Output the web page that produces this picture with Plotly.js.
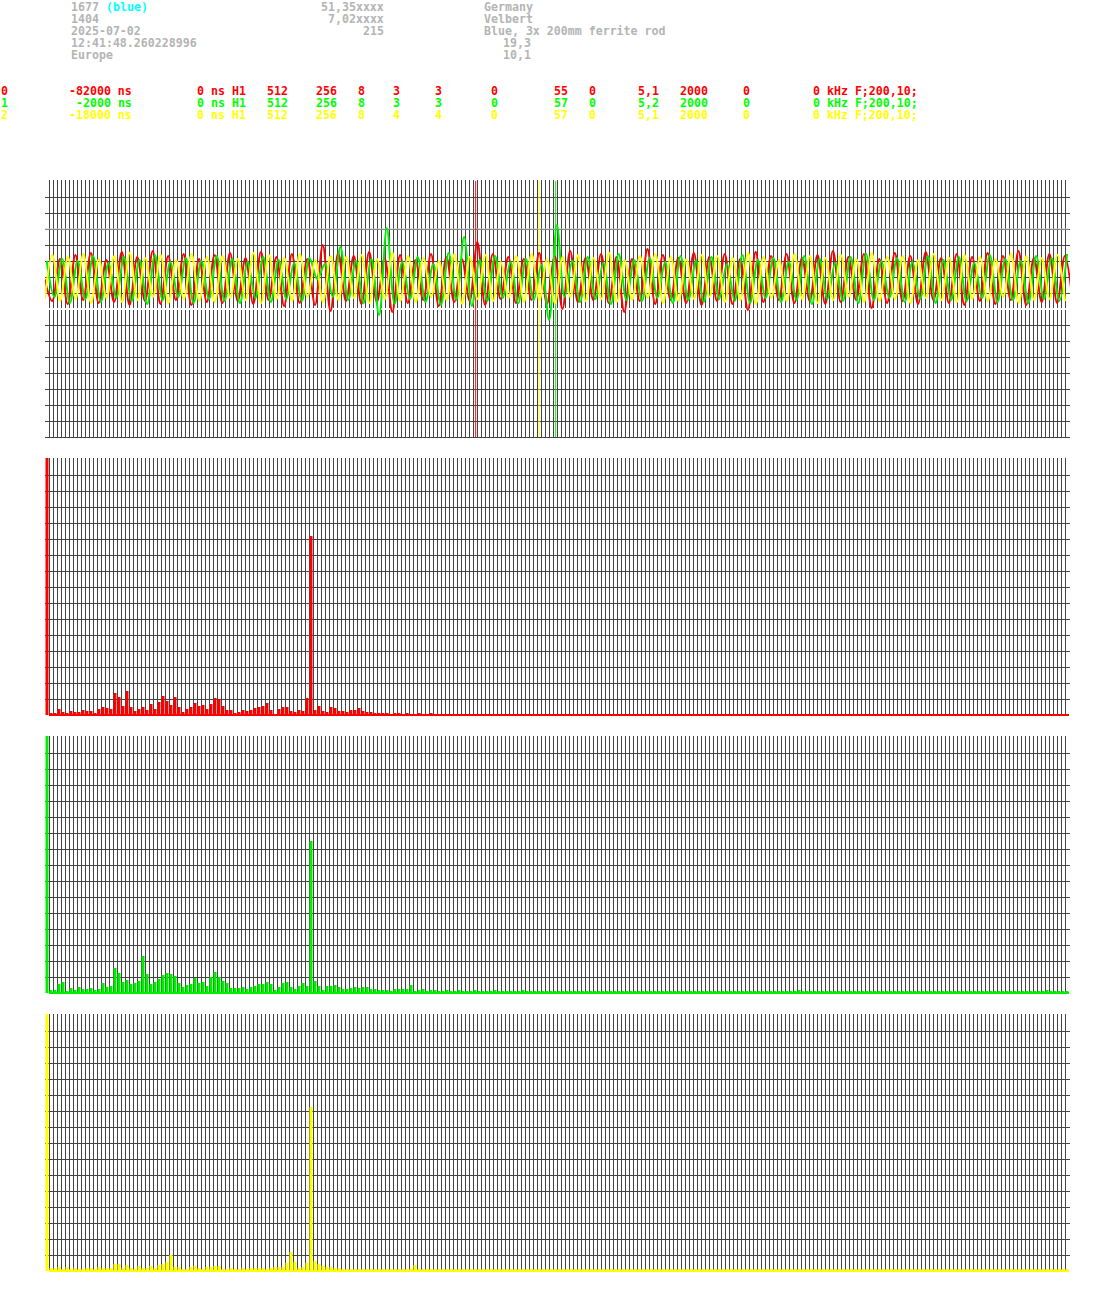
<!DOCTYPE html>
<html>
<head>
<meta charset="utf-8">
<script src="https://cdn.plot.ly/plotly-3.0.1.min.js"></script>
<style>html,body{margin:0;padding:0;background:#fff;}#chart{width:1095px;height:1293px;}</style>
</head>
<body>
<div id="chart"></div>
<script>
// ---------- header texts ----------
const headerCol1 = ["1677", "1404", "2025-07-02", "12:41:48.260228996", "Europe"];
const headerTag = "(blue)";
const headerCol2 = ["51,35xxxx", "7,02xxxx", "215"];
const headerCol3 = ["Germany", "Velbert", "Blue, 3x 200mm ferrite rod"];
const headerCol3b = ["19,3", "10,1"];

// ---------- channel rows ----------
const chanId     = ["0", "1", "2"];
const chanDelay  = ["-82000 ns", "-2000 ns", "-18000 ns"];
const chanOffs   = ["0 ns H1", "0 ns H1", "0 ns H1"];
const chanA      = ["512", "512", "512"];
const chanB      = ["256", "256", "256"];
const chanC      = ["8", "8", "8"];
const chanD      = ["3", "3", "4"];
const chanE      = ["3", "3", "4"];
const chanF      = ["0", "0", "0"];
const chanG      = ["55", "57", "57"];
const chanH      = ["0", "0", "0"];
const chanI      = ["5,1", "5,2", "5,1"];
const chanJ      = ["2000", "2000", "2000"];
const chanK      = ["0", "0", "0"];
const chanL      = ["0 kHz F;200,10;", "0 kHz F;200,10;", "0 kHz F;200,10;"];

// ---------- waveform extrema (value above zero line, sample spacing waveStep px) ----------
const waveStep = 7.73;
const waveRedStart = -4.5, waveGreenStart = -2.3, waveYellowStart = -4.3;
const waveRed = [30,8,50,5,54,9,56,6,49,7,57,4,52,8,58,5,53,9,55,4,50,7,54,6,56,8,51,5,57,9,52,3,55,6,50,4,64,-2,56,8,53,5,57,7,51,-3,54,6,49,9,55,3,52,7,50,8,67,4,55,10,52,6,50,9,56,5,53,0,58,7,51,9,55,6,52,-3,50,8,60,5,54,9,51,6,56,4,52,8,55,5,50,-1,57,7,53,9,55,6,51,8,54,5,58,7,52,9,55,1,50,6,56,8,53,5,57,9,51,6,55,4,52,8,56,5,53,9,58,4,51,7,55,6,53,8];
const waveGreen = [48,12,50,6,48,10,53,7,46,11,52,8,49,5,54,9,47,12,51,6,48,10,53,8,50,6,47,11,52,7,49,10,46,8,51,30,45,12,62,9,48,6,50,-6,81,5,47,10,52,7,45,4,56,9,72,3,49,8,53,11,47,6,50,9,44,-11,84,12,48,7,52,10,46,5,55,9,49,8,51,11,47,6,53,9,48,7,52,10,45,8,54,6,49,11,51,7,47,9,53,5,50,10,46,8,52,6,55,9,48,11,51,7,47,10,53,6,49,9,52,8,46,11,54,7,50,9,48,6,53,10,51,8,55];
const waveYellow = [10,54,8,52,10,55,6,50,11,53,7,56,9,51,12,54,6,49,10,55,8,52,7,53,11,50,9,56,6,54,10,51,8,55,12,49,7,53,9,52,11,54,6,50,10,56,8,53,7,51,12,48,9,55,5,52,10,54,8,47,11,53,7,55,9,50,6,52,12,54,8,51,10,56,7,49,9,53,11,55,6,52,8,50,10,54,12,53,7,51,9,56,5,52,11,49,8,55,10,53,6,51,9,54,12,50,7,56,8,52,10,53,6,49,11,55,9,51,7,54,10,52,8,50,12,55,6,53,9,51,10,54,8];
const markerPos = [426.7, 490, 506.7];      // trigger markers red / yellow / green (px units)
const levelLine = 80;                        // light grey level

// ---------- spectra (256 bins, heights in px units) ----------
const specRed = [259,
 2,2,6,3,2,4,3,3,5,4, 4,2,6,8,7,6,22,18,9,24, 8,4,6,8,5,11,6,13,19,14, 10,18,8,3,6,8,12,9,10,6,
 11,17,16,9,5,5,2,3,5,4, 5,7,8,9,12,5,1,6,8,8, 4,3,5,4,17,179,5,9,4,3, 8,7,4,4,3,5,5,7,4,3,
 3,2,2,2,2,1,2,2,1,2, 1,1,2,1,1,2,1,1,1,1, 1,1,1,1,1,1,1,1,1,1, 1,1,1,1,1,1,1,1,1,1,
 1,1,1,1,1,1,1,1,1,1, 1,1,1,1,1,1,1,1,1,1, 1,1,1,1,1,1,1,1,1,1, 1,1,1,1,1,1,1,1,1,1,
 1,1,1,1,1,1,1,1,1,1, 1,1,1,1,1,1,1,1,1,1, 1,1,1,1,1,1,1,1,1,1, 1,1,1,1,1,1,1,1,1,1,
 1,1,1,1,1,1,1,1,1,1, 1,1,1,1,1,1,1,1,1,1, 1,1,1,1,1,1,1,1,1,1, 1,1,1,1,1,1,1,1,1,1,
 1,1,1,1,1,1,1,1,1,1, 1,1,1,1,1];
const specGreen = [259,
 3,3,9,11,2,5,3,6,4,4, 5,3,4,10,6,7,25,20,11,13, 9,10,12,37,19,9,11,14,18,20, 19,17,10,6,8,9,15,10,11,7,
 16,21,16,12,10,5,5,5,6,4, 6,7,9,9,11,9,3,6,10,11, 6,4,7,10,7,152,12,7,3,7, 7,8,6,4,4,5,6,5,6,6,
 4,4,3,3,3,2,4,4,4,4, 8,2,3,4,2,3,3,2,2,3, 2,2,3,2,2,2,3,2,2,2, 2,3,2,2,2,2,2,2,3,2,
 2,2,2,2,2,2,2,2,2,2, 2,2,2,2,2,2,2,2,2,2, 2,2,2,2,2,2,2,2,2,2, 2,2,2,2,2,2,2,2,2,2,
 2,2,2,2,2,2,2,2,2,2, 2,2,2,2,2,2,2,2,2,2, 2,2,2,2,2,2,2,3,2,2, 2,2,2,2,2,2,2,2,2,2,
 2,2,2,2,2,2,2,2,2,2, 2,2,2,2,2,2,2,2,2,2, 2,2,2,2,2,2,2,2,2,2, 2,2,2,2,2,2,2,2,2,2,
 2,2,2,2,2,2,2,2,2,3, 2,2,2,2,2];
const specYellow = [259,
 3,3,4,2,4,2,3,2,2,3, 3,2,4,3,3,3,7,7,3,6, 3,2,5,3,3,5,3,6,7,9, 16,4,4,2,2,4,5,3,2,4,
 4,5,5,2,2,3,2,2,3,2, 3,3,3,3,2,3,4,4,4,8, 19,9,3,4,8,164,10,7,5,4, 4,3,3,2,2,2,2,2,2,2,
 2,2,2,2,2,2,2,2,2,2, 2,6,2,2,2,2,2,2,2,2, 2,2,2,2,2,2,2,2,2,2, 2,2,2,2,2,2,2,2,2,2,
 2,2,2,2,2,2,2,2,2,2, 2,2,2,2,2,2,2,2,2,2, 2,2,2,2,2,2,2,2,2,2, 2,2,2,2,2,2,2,2,2,2,
 2,2,2,2,2,2,2,2,2,2, 2,2,2,2,2,2,2,2,2,2, 2,2,2,2,2,2,2,2,2,2, 2,2,2,2,2,2,2,2,2,2,
 2,2,2,2,2,2,2,2,2,2, 2,2,2,2,2,2,2,2,2,2, 2,2,2,2,2,2,2,2,2,2, 2,2,2,2,2,2,2,2,2,2,
 2,2,2,2,2,2,2,2,2,2, 2,2,2,2,2];

// ---------- styling ----------
const W = 1095, H = 1293;
const RED = "#ff0000", GREEN = "#00ee00", YELLOW = "#ffff00", GREY_TXT = "#b4b4b4", CYAN = "#00ffff";
const GRID = "#444444";
const CH = 7; // char width px
const FONT = "DejaVu Sans Mono, Liberation Mono, monospace";
const FSIZE = 11.6;

const px2x = p => p / W;
const py2y = p => 1 - p / H;

// pixel rows of each panel (top grid line, bottom grid line); domains get 1px of slack
const panels = {
  wave:   [181, 437],
  red:    [459, 715],
  green:  [737, 993],
  yellow: [1015, 1271]
};
const xdom = [45 / W, 1070 / W];
const ydom = p => [py2y(p[1] + 1), py2y(p[0] - 1)];

const binIdx = specRed.map((v, i) => i);          // 0..255
const binX = binIdx.map(i => i - 0.5);            // bar centres
const binGrid = binIdx;                           // vertical grid per bin
const waveGrid = binIdx.map(i => i * 4);          // same grid in px units

const traces = [];
function wave(y, start, color) {
  traces.push({type: "scatter", mode: "lines", x0: start, dx: waveStep, y: y,
    line: {color: color, width: 2, shape: "spline", smoothing: 1},
    xaxis: "x", yaxis: "y", hoverinfo: "skip"});
}
wave(waveRed, waveRedStart, RED);
wave(waveGreen, waveGreenStart, GREEN);
wave(waveYellow, waveYellowStart, YELLOW);

function spec(vals, color, xa, ya) {
  traces.push({type: "bar", x: binX, y: vals, width: 0.75,
    marker: {color: color, line: {width: 0}}, xaxis: xa, yaxis: ya,
    cliponaxis: false, hoverinfo: "skip"});
}
spec(specRed, RED, "x2", "y2");
spec(specGreen, GREEN, "x3", "y3");
spec(specYellow, YELLOW, "x4", "y4");

const gridAx = {showticklabels: false, ticks: "", gridcolor: GRID, gridwidth: 1,
  showline: false, zeroline: false, fixedrange: true};
const specX = (a) => Object.assign({}, gridAx, {domain: xdom, range: [-1, 255.25], tickmode: "array", tickvals: binGrid, anchor: a});
const specY = (p, a) => Object.assign({}, gridAx, {domain: ydom(p), range: [-1, 257], dtick: 16, tick0: 0, anchor: a});

const layout = {
  width: W, height: H, margin: {l: 0, r: 0, t: 0, b: 0},
  paper_bgcolor: "#ffffff", plot_bgcolor: "#ffffff", showlegend: false,
  xaxis:  Object.assign({}, gridAx, {domain: xdom, range: [-4, 1021], tickmode: "array", tickvals: waveGrid, anchor: "y"}),
  yaxis:  Object.assign({}, gridAx, {domain: ydom(panels.wave), range: [-129, 129], dtick: 16, tick0: 0,
            zeroline: true, zerolinecolor: "#ffffff", zerolinewidth: 2, anchor: "x"}),
  xaxis2: specX("y2"), yaxis2: specY(panels.red, "x2"),
  xaxis3: specX("y3"), yaxis3: specY(panels.green, "x3"),
  xaxis4: specX("y4"), yaxis4: specY(panels.yellow, "x4"),
  shapes: [],
  annotations: []
};

// level line and trigger markers in the waveform panel
layout.shapes.push({type: "line", xref: "x", yref: "y", x0: -4, x1: 1020, y0: levelLine, y1: levelLine,
  line: {color: "#c8c8c8", width: 1}, layer: "between"});
const markerColors = [RED, YELLOW, GREEN];
markerPos.forEach((m, i) => layout.shapes.push({type: "line", xref: "x", yref: "y", x0: m, x1: m, y0: -128, y1: 128,
  line: {color: markerColors[i], width: 1}, layer: "between"}));
// coloured baselines of spectra
[["x2","y2",RED],["x3","y3",GREEN],["x4","y4",YELLOW]].forEach(s => layout.shapes.push({type: "line",
  xref: s[0], yref: s[1], x0: 0, x1: 255, y0: 0, y1: 0, line: {color: s[2], width: 2}, layer: "above"}));

function txt(col, rowY, text, color, anchor) {
  layout.annotations.push({xref: "paper", yref: "paper", x: px2x(col * CH), y: py2y(rowY),
    xanchor: anchor || "left", yanchor: "middle", text: text, showarrow: false, borderpad: 0,
    font: {family: FONT, size: FSIZE, color: color, weight: "bold"}});
}
const headRows = [7, 19, 31, 43, 55];
headerCol1.forEach((t, i) => txt(10, headRows[i], t, GREY_TXT));
txt(15, headRows[0], headerTag, CYAN);
headerCol2.forEach((t, i) => txt(55, headRows[i], t, GREY_TXT, "right"));
headerCol3.forEach((t, i) => txt(69, headRows[i], t, GREY_TXT));
headerCol3b.forEach((t, i) => txt(76, headRows[3 + i], t, GREY_TXT, "right"));

const chanRows = [91, 103, 115];
const chanColors = [RED, "#00ff00", YELLOW];
chanRows.forEach((y, i) => {
  const c = chanColors[i];
  txt(0, y, chanId[i], c);
  txt(19, y, chanDelay[i], c, "right");
  txt(28, y, chanOffs[i], c);
  txt(38, y, chanA[i], c);
  txt(45, y, chanB[i], c);
  txt(51, y, chanC[i], c);
  txt(56, y, chanD[i], c);
  txt(62, y, chanE[i], c);
  txt(70, y, chanF[i], c);
  txt(79, y, chanG[i], c);
  txt(84, y, chanH[i], c);
  txt(91, y, chanI[i], c);
  txt(97, y, chanJ[i], c);
  txt(106, y, chanK[i], c);
  txt(116, y, chanL[i], c);
});

Plotly.newPlot("chart", traces, layout, {staticPlot: true, displayModeBar: false});
</script>
</body>
</html>
